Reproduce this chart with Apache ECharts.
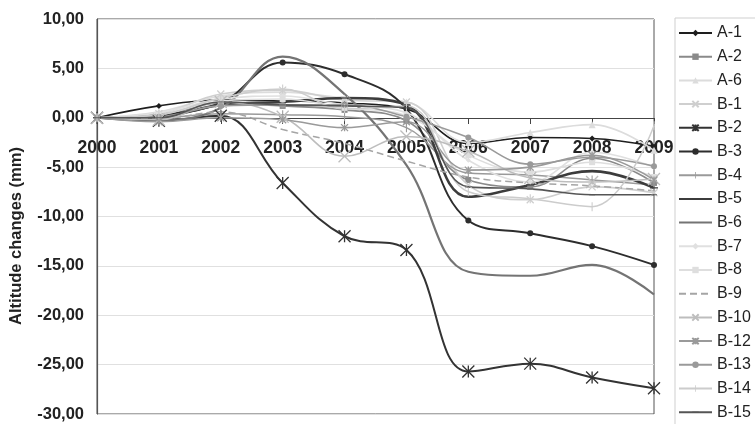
<!DOCTYPE html>
<html><head><meta charset="utf-8">
<script src="https://cdn.jsdelivr.net/npm/echarts@6/dist/echarts.min.js"></script>
<style>html,body{margin:0;padding:0;background:#fff}#c{width:755px;height:424px}</style>
</head><body><div id="c"></div>
<script>
var years = ['2000','2001','2002','2003','2004','2005','2006','2007','2008','2009'];
var yTicks = [-30,-25,-20,-15,-10,-5,0,5,10];
var A1  = [0, 1.2, 1.8, 1.7, 1.5, 0.9, -2.6, -2.0, -2.1, -2.9];
var A2  = [0, 0.2, 1.5, 1.2, 0.8, -0.3, -6.3, -7.0, -4.1, -6.6];
var A6  = [0, 0.6, 2.2, 2.6, 2.0, 1.6, -2.5, -1.5, -0.7, -3.3];
var B1  = [0, 0.4, 2.4, 2.8, 1.8, 1.6, -6.8, -8.3, -7.0, -7.6];
var B2  = [0, -0.3, 0.2, -6.6, -12.0, -13.4, -25.7, -24.9, -26.3, -27.4];
var B3  = [0, 0.3, 1.5, 5.6, 4.4, 0.9, -10.4, -11.7, -13.0, -14.9];
var B4  = [0, 0.0, 0.4, 0.3, 0.1, -1.0, -5.6, -5.8, -6.3, -6.8];
var B5  = [0, 0.1, 1.3, 1.6, 2.0, 1.3, -8.0, -6.8, -5.4, -7.1];
var B6  = [0, -0.2, 1.0, 6.2, 2.4, -4.8, -15.6, -16.0, -14.9, -17.9];
var B7  = [0, 0.5, 1.9, 2.2, 1.3, 0.5, -4.3, -6.5, -3.5, -5.0];
var B8  = [0, 0.3, 1.7, 1.9, 1.0, 0.2, -3.8, -5.5, -4.5, -6.0];
var B9  = [0, -0.1, 0.6, -1.2, -2.6, -4.4, -6.0, -6.6, -6.9, -7.4];
var B10 = [0, -0.2, 1.6, 0.1, -3.9, -1.9, -3.4, -6.1, -6.5, -6.2];
var B12 = [0, -0.4, 0.0, -0.2, -1.0, -0.4, -5.3, -5.0, -3.8, -6.3];
var B13 = [0, 0.1, 1.2, 1.3, 1.3, 0.1, -2.0, -4.7, -4.0, -4.9];
var B14 = [0, 0.3, 2.0, 2.9, 0.9, 1.2, -7.5, -8.2, -9.0, -0.8];
var B15 = [0, 0.0, 1.6, 1.3, 1.2, 1.0, -7.0, -7.2, -7.8, -7.8];

var SYM_X = 'path://M0,0L10,10M10,0L0,10';
var SYM_AST = 'path://M0,0L10,10M10,0L0,10M5,0L5,10';
var SYM_VT = 'path://M0,0M10,10M4.4,0L5.6,0L5.6,10L4.4,10Z';
var SYM_DASH = 'path://M0,0M10,10M0,4.2L10,4.2L10,5.8L0,5.8Z';
var SYM_NONE = 'path://M0,0L10,10';

function S(name, data, color, width, symbol, size, stroke, dashed) {
  var none = symbol === 'none';
  return {
    name: name, type: 'line', data: data, smooth: 0.4,
    symbol: none ? SYM_NONE : symbol, symbolSize: none ? 1 : size, showSymbol: !none,
    color: color,
    lineStyle: {color: color, width: width, type: dashed ? [7,4] : 'solid'},
    itemStyle: stroke ? {color: color, borderColor: color, borderWidth: 1.3} : {color: color, borderWidth: 0},
    emphasis: {disabled: true}
  };
}

var series = [
  S('A-1', A1, '#1e1e1e', 1.6, 'diamond', 6),
  S('A-2', A2, '#8a8a8a', 1.6, 'rect', 6),
  S('A-6', A6, '#dcdcdc', 1.6, 'triangle', 7),
  S('B-1', B1, '#cfcfcf', 1.6, SYM_X, 7, true),
  S('B-2', B2, '#333333', 2, SYM_AST, 12, true),
  S('B-3', B3, '#2d2d2d', 2, 'circle', 6),
  S('B-4', B4, '#9a9a9a', 1.5, SYM_VT, 9),
  S('B-5', B5, '#3c3c3c', 2.6, SYM_DASH, 8),
  S('B-6', B6, '#747474', 2.2, 'none', 0),
  S('B-7', B7, '#e0e0e0', 1.6, 'diamond', 5),
  S('B-8', B8, '#dedede', 1.6, 'rect', 6),
  S('B-9', B9, '#a5a5a5', 1.5, 'none', 0, false, true),
  S('B-10', B10, '#bdbdbd', 1.6, SYM_X, 12, true),
  S('B-12', B12, '#9a9a9a', 1.6, SYM_AST, 7, true),
  S('B-13', B13, '#9a9a9a', 1.6, 'circle', 6),
  S('B-14', B14, '#cccccc', 1.5, SYM_VT, 9),
  S('B-15', B15, '#555555', 1.6, SYM_DASH, 6)
];

var chart = echarts.init(document.getElementById('c'), null, {renderer: 'canvas'});
chart.setOption({
  animation: false,
  backgroundColor: '#fff',
  textStyle: {fontFamily: 'Liberation Sans, Arial, sans-serif'},
  grid: {left: 97, right: 101, top: 19, bottom: 10, show: true, borderColor: '#555', borderWidth: 1, containLabel: false},
  xAxis: {
    type: 'category', data: years, boundaryGap: false,
    offset: -296,
    axisLine: {onZero: false, lineStyle: {color: '#444', width: 1.2}},
    axisTick: {show: true, length: 6, inside: false, lineStyle: {color: '#444'}},
    axisLabel: {fontSize: 17.5, fontWeight: 'bold', color: '#222', margin: 21, interval: 0},
    splitLine: {show: false}
  },
  yAxis: {
    type: 'value', min: yTicks[0], max: yTicks[yTicks.length-1], interval: 5,
    axisLine: {show: true, lineStyle: {color: '#555', width: 1.2}},
    axisTick: {show: false},
    axisLabel: {fontSize: 16.5, fontWeight: 'bold', color: '#222', margin: 13,
      formatter: function (v) { return v.toFixed(2).replace('.', ','); }},
    splitLine: {lineStyle: {color: '#e0e0e0', width: 1.2}}
  },
  graphic: [{
    type: 'text', x: 16, y: 236, rotation: Math.PI / 2,
    style: {text: 'Altitude changes (mm)', fontSize: 16.5, fontWeight: 'bold', fill: '#222',
      fontFamily: 'Liberation Sans, Arial, sans-serif', align: 'center', verticalAlign: 'middle'}
  }],
  legend: {
    orient: 'vertical', left: 675, top: 18, height: 560,
    padding: [7, 40, 40, 3],
    borderColor: '#cfcfcf', borderWidth: 1,
    itemWidth: 33, itemHeight: 8, itemGap: 7.7,
    textStyle: {fontSize: 16, lineHeight: 16, color: '#222', padding: [0,0,0,0]},
    data: series.map(function (s) { return s.name; })
  },
  series: series
});
</script></body></html>
